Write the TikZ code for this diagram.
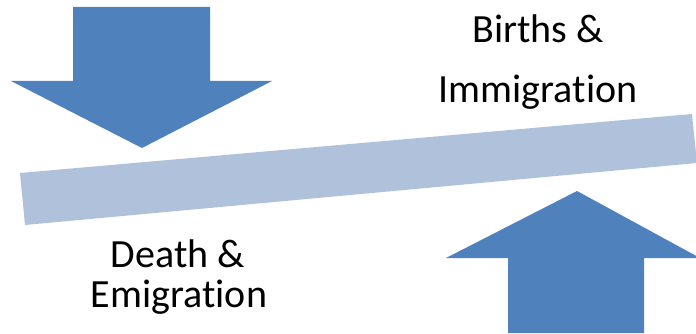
\documentclass[tikz,border=0pt]{standalone}
\usepackage{fontspec}
\setmainfont[Ligatures=NoCommon]{Carlito}
\definecolor{arrowblue}{HTML}{4F81BD}
\definecolor{barblue}{HTML}{B0C1DC}
\begin{document}
\begin{tikzpicture}[x=1pt,y=-1pt,
  bigarrow/.style={fill=arrowblue,draw=none},
  lever/.style={fill=barblue,draw=none},
  lbl/.style={font=\fontsize{40}{48}\selectfont,anchor=base,inner sep=0pt}]
\useasboundingbox (0,0) rectangle (696,334);
\fill[white] (0,0) rectangle (696,334);
% lever bar
\path[lever] (20,173) -- (25,225) -- (697,163) -- (692,114) -- cycle;
% down arrow
\path[bigarrow] (73,7) -- (210,7) -- (210,81) -- (272,81) -- (142,148) -- (11,81) -- (73,81) -- cycle;
% up arrow
\path[bigarrow] (508,333) -- (644,333) -- (644,258) -- (700,258) -- (577,191) -- (446,258) -- (508,258) -- cycle;
% labels
\node[lbl] (births) at (538,43) {Births \&};
\node[lbl] (immig) at (538,103) {Immigration};
\node[lbl] (death) at (178,267) {Death \&};
\node[lbl] (emig) at (179,307) {Emigration};
\end{tikzpicture}
\end{document}
